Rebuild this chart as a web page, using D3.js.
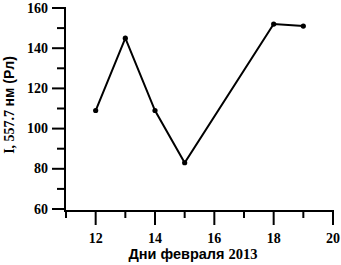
<!DOCTYPE html>
<html>
<head>
<meta charset="utf-8">
<script src="https://cdn.jsdelivr.net/npm/d3@7"></script>
<style>
  body { margin: 0; background: #fff; }
  svg { display: block; }
</style>
</head>
<body>
<svg id="chart" width="341" height="265"></svg>
<script>
const days = [12, 13, 14, 15, 18, 19];
const intensity = [109, 145, 109, 83, 152, 151];
const xTicks = [12, 14, 16, 18, 20];
const yTicks = [60, 80, 100, 120, 140, 160];

const svg = d3.select('#chart');
const x = d3.scaleLinear().domain([11, 20]).range([66, 333]);
const y = d3.scaleLinear().domain([60, 160]).range([209, 8]);

const axisY = 65, axisX = 211;
const serif = '"Liberation Serif", "Times New Roman", serif';
const sans = '"Liberation Sans", Arial, sans-serif';
const tickFont = 'bold 14px ' + serif;

// оси
svg.append('line')
    .attr('x1', axisY).attr('x2', axisY)
    .attr('y1', y(160) - 1).attr('y2', axisX)
    .attr('stroke', '#000').attr('stroke-width', 2);
svg.append('line')
    .attr('x1', axisY - 1).attr('x2', x(20) + 1)
    .attr('y1', axisX).attr('y2', axisX)
    .attr('stroke', '#000').attr('stroke-width', 2);

// деления Y
const yMinor = d3.range(70, 160, 20);
svg.selectAll('.ymaj').data(yTicks).enter().append('line')
    .attr('x1', axisY - 13).attr('x2', axisY)
    .attr('y1', d => y(d)).attr('y2', d => y(d))
    .attr('stroke', '#000').attr('stroke-width', 2);
svg.selectAll('.ymin').data(yMinor).enter().append('line')
    .attr('x1', axisY - 8).attr('x2', axisY)
    .attr('y1', d => y(d)).attr('y2', d => y(d))
    .attr('stroke', '#000').attr('stroke-width', 2);
svg.selectAll('.ylab').data(yTicks).enter().append('text')
    .attr('x', 48).attr('y', d => y(d) + 4.5)
    .attr('text-anchor', 'end')
    .style('font', tickFont)
    .text(d => d);

// деления X
const xMinor = d3.range(11, 20, 2);
svg.selectAll('.xmaj').data(xTicks).enter().append('line')
    .attr('x1', d => x(d)).attr('x2', d => x(d))
    .attr('y1', axisX).attr('y2', axisX + 14)
    .attr('stroke', '#000').attr('stroke-width', 2);
svg.selectAll('.xmin').data(xMinor).enter().append('line')
    .attr('x1', d => x(d)).attr('x2', d => x(d))
    .attr('y1', axisX).attr('y2', axisX + 7)
    .attr('stroke', '#000').attr('stroke-width', 2);
svg.selectAll('.xlab').data(xTicks).enter().append('text')
    .attr('x', d => x(d)).attr('y', 243)
    .attr('text-anchor', 'middle')
    .style('font', tickFont)
    .text(d => d);

// подписи осей (кириллица — без засечек, цифры — с засечками)
const xl = svg.append('text')
    .attr('x', 193).attr('y', 259)
    .attr('text-anchor', 'middle')
    .style('font-weight', 'bold').style('font-size', '14.5px');
xl.append('tspan').style('font-family', sans).text('Дни февраля ');
xl.append('tspan').style('font-family', serif).text('2013');

const yl = svg.append('text')
    .attr('transform', 'translate(14,105) rotate(-90)')
    .attr('text-anchor', 'middle')
    .style('font-weight', 'bold').style('font-size', '14px');
yl.append('tspan').style('font-family', serif).text('I, 557.7 ');
yl.append('tspan').style('font-family', sans).text('нм (Рл)');

// данные
const pts = days.map((d, i) => [d, intensity[i]]);
const line = d3.line().x(d => x(d[0])).y(d => y(d[1]));
svg.append('path')
    .datum(pts)
    .attr('d', line)
    .attr('fill', 'none')
    .attr('stroke', '#000')
    .attr('stroke-width', 2);
svg.selectAll('.pt').data(pts).enter().append('circle')
    .attr('cx', d => x(d[0])).attr('cy', d => y(d[1]))
    .attr('r', 2.6).attr('fill', '#000');
</script>
</body>
</html>
